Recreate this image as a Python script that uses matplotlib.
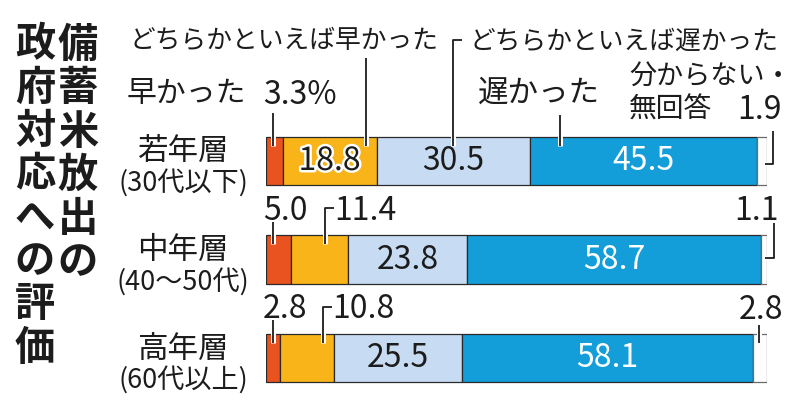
import matplotlib
matplotlib.use("Agg")
import matplotlib.pyplot as plt
import matplotlib.patheffects as pe
import numpy as np

plt.rcParams['font.family'] = ['Noto Sans CJK JP', 'DejaVu Sans']

# ---- data ----
groups = ["若年層", "中年層", "高年層"]
group_sub = ["(30代以下)", "(40〜50代)", "(60代以上)"]
series = ["早かった", "どちらかといえば早かった", "どちらかといえば遅かった", "遅かった", "分からない・無回答"]
hayakatta = [3.3, 5.0, 2.8]
dochira_hayai = [18.8, 11.4, 10.8]
dochira_osoi = [30.5, 23.8, 25.5]
osokatta = [45.5, 58.7, 58.1]
wakaranai = [1.9, 1.1, 2.8]
title_right = "備蓄米放出の"
title_left = "政府対応への評価"

colors = ['#E9531F', '#F8B419', '#C7DCF2', '#139ED9', '#FFFFFF']
values = np.array([hayakatta, dochira_hayai, dochira_osoi, osokatta, wakaranai])

W, H = 800, 415
fig = plt.figure(figsize=(W / 100, H / 100), dpi=100)
ax = fig.add_axes([266 / W, 0, 501 / W, 1])
pitch = 98.5
row0 = 161
ax.set_xlim(0, 100)
ax.set_ylim((H - row0) / pitch, -row0 / pitch)
ax.axis('off')

def py(y):
    return (y - row0) / pitch

def ftxt(x, y, s, **kw):
    kw.setdefault('color', '#1c1c1c')
    return fig.text(x / W, 1 - y / H, s, **kw)

bar_h = 48 / pitch
rows = np.arange(len(groups))
lefts = np.zeros(len(groups))
starts = []
for i in range(values.shape[0]):
    ec = '#2a2a2a' if i < 4 else '#6a6a6a'
    ax.barh(rows, values[i], left=lefts, height=bar_h, color=colors[i],
            edgecolor=ec, linewidth=0.9, zorder=2)
    starts.append(lefts.copy())
    lefts = lefts + values[i]
starts = np.array(starts)

halo = [pe.withStroke(linewidth=3.5, foreground='white')]
num_fs = 23

# in-bar labels
inbar = {(0, 1): 'halo', (0, 2): 'dark', (0, 3): 'white',
         (1, 2): 'dark', (1, 3): 'white',
         (2, 2): 'dark', (2, 3): 'white'}
for (r, s), style in inbar.items():
    xc = starts[s][r] + values[s][r] / 2
    if style == 'white':
        ax.text(xc, r, f"{values[s][r]:.1f}", ha='center', va='center',
                fontsize=num_fs, color='white', zorder=5)
    elif style == 'halo':
        ax.text(xc, r, f"{values[s][r]:.1f}", ha='center', va='center',
                fontsize=num_fs, color='#1c1c1c', zorder=5, path_effects=halo)
    else:
        ax.text(xc, r, f"{values[s][r]:.1f}", ha='center', va='center',
                fontsize=num_fs, color='#1c1c1c', zorder=5)

# leader lines
lw = 1.3
line_halo = [pe.Stroke(linewidth=3.6, foreground='white'), pe.Normal()]

def leader(xs, ys):
    ax.plot(xs, ys, color='#1c1c1c', lw=lw, zorder=6, clip_on=False,
            solid_capstyle='butt', path_effects=line_halo)

def seg_x(r, s, frac):
    return starts[s][r] + values[s][r] * frac

bot = lambda r: r - bar_h / 2 + 0.09
hook = 1.8
# row 0
leader([seg_x(0, 0, 0.42)] * 2, [py(113), bot(0)])
leader([seg_x(0, 1, 0.89)] * 2, [py(58), bot(0)])
x = seg_x(0, 2, 0.5)
leader([x + hook, x, x], [py(40), py(40), bot(0)])
leader([seg_x(0, 3, 0.134)] * 2, [py(115), bot(0)])
leader([101.2, 101.2, 99.7], [py(131), 0.03, 0.03])
# row 1
leader([seg_x(1, 0, 0.28)] * 2, [py(222), bot(1)])
x = seg_x(1, 1, 0.6)
leader([x + hook, x, x], [py(208), py(208), bot(1)])
leader([101.4, 101.4, 99.7], [py(223), 1 - 0.02, 1 - 0.02])
# row 2
leader([seg_x(2, 0, 0.5)] * 2, [py(320), bot(2)])
x = seg_x(2, 1, 0.8)
leader([x + hook, x, x], [py(307), py(307), bot(2)])
leader([seg_x(2, 4, 0.43)] * 2, [py(325), bot(2)])

# top labels
ftxt(130, 41, series[1], fontsize=18.5, va='center', ha='left')
ftxt(470, 42, series[2], fontsize=18.5, va='center', ha='left')
ftxt(127, 93, series[0], fontsize=21.5, va='center', ha='left')
ftxt(263, 95, f"{hayakatta[0]:.1f}%", fontsize=num_fs, va='center', ha='left')
ftxt(478, 93, series[3], fontsize=22, va='center', ha='left')
ftxt(629, 77, "分からない・", fontsize=19.5, va='center', ha='left')
ftxt(629, 110, "無回答", fontsize=20, va='center', ha='left')
ftxt(782, 110, f"{wakaranai[0]:.1f}", fontsize=num_fs, va='center', ha='right')

# row 1 / 2 labels
ftxt(263, 211, f"{hayakatta[1]:.1f}", fontsize=num_fs, va='center', ha='left')
ftxt(334, 211, f"{dochira_hayai[1]:.1f}", fontsize=num_fs, va='center', ha='left')
ftxt(779, 211, f"{wakaranai[1]:.1f}", fontsize=num_fs, va='center', ha='right')
ftxt(263, 309, f"{hayakatta[2]:.1f}", fontsize=num_fs, va='center', ha='left')
ftxt(332, 309, f"{dochira_hayai[2]:.1f}", fontsize=num_fs, va='center', ha='left')
ftxt(783, 310, f"{wakaranai[2]:.1f}", fontsize=num_fs, va='center', ha='right')

# group labels
for r, (g, sub) in enumerate(zip(groups, group_sub)):
    cy = row0 + r * pitch
    ftxt(183, cy - 9, g, fontsize=22, va='center', ha='center')
    ftxt(183, cy + 22, sub, fontsize=19.5, va='center', ha='center')

# vertical title
for k, ch in enumerate(title_right):
    ftxt(78, 45 + k * 43.5, ch, fontsize=29, fontweight='bold', va='center', ha='center')
for k, ch in enumerate(title_left):
    ftxt(35, 45 + k * 43.3, ch, fontsize=29, fontweight='bold', va='center', ha='center')

fig.savefig("out.png", dpi=100)
